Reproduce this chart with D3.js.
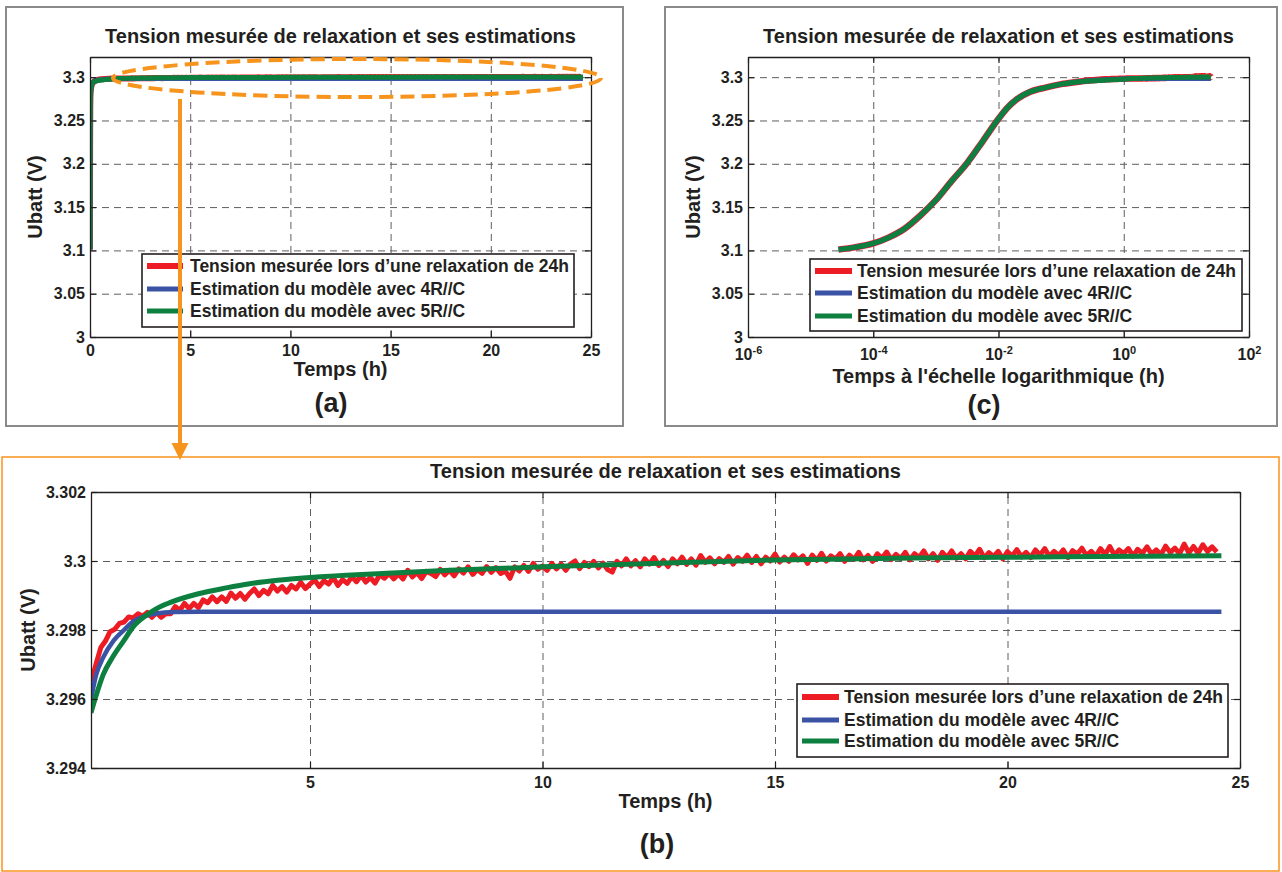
<!DOCTYPE html>
<html><head><meta charset="utf-8">
<script src="https://cdn.jsdelivr.net/npm/d3@7"></script>
<style>
body{margin:0;background:#fff}
text{font-family:"Liberation Sans",Arial,Helvetica,sans-serif;font-weight:bold;fill:#231f20}
</style>
</head><body><svg id="c" width="1282" height="872"></svg>
<script>
// ---------------- DATA ----------------
const titleText = "Tension mesurée de relaxation et ses estimations";
const seriesNames = ["Tension mesurée lors d\u2019une relaxation de 24h","Estimation du modèle avec 4R//C","Estimation du modèle avec 5R//C"];
const yLabel = "Ubatt (V)";
const xLabelLin = "Temps (h)";
const xLabelLog = "Temps à l'échelle logarithmique (h)";

// early transient (hours) shared by the three curves
const earlyT = [2.8e-5,5e-5,1e-4,1.78e-4,3.16e-4,5.6e-4,1e-3,1.78e-3,3.16e-3,5.6e-3,1e-2,1.4e-2,2e-2,3.16e-2,5.6e-2,0.1,0.178];
const earlyV = [3.101,3.1035,3.108,3.115,3.125,3.140,3.158,3.180,3.201,3.226,3.252,3.265,3.275,3.283,3.288,3.292,3.2945];

// measured voltage (panel b), hours / volts
const redT = [0.3,0.4,0.5,0.6,0.7,0.8,0.9,
1,1.1,1.2,1.3,1.4,1.5,1.6,1.7,1.8,1.9,
2,2.1,2.2,2.3,2.4,2.5,2.6,2.7,2.8,2.9,
3,3.1,3.2,3.3,3.4,3.5,3.6,3.7,3.8,3.9,
4,4.1,4.2,4.3,4.4,4.5,4.6,4.7,4.8,4.9,
5,5.1,5.2,5.3,5.4,5.5,5.6,5.7,5.8,5.9,
6,6.1,6.2,6.3,6.4,6.5,6.6,6.7,6.8,6.9,
7,7.1,7.2,7.3,7.4,7.5,7.6,7.7,7.8,7.9,
8,8.1,8.2,8.3,8.4,8.5,8.6,8.7,8.8,8.9,
9,9.1,9.2,9.3,9.4,9.5,9.6,9.7,9.8,9.9,
10,10.1,10.2,10.3,10.4,10.5,10.6,10.7,10.8,10.9,
11,11.1,11.2,11.3,11.4,11.5,11.6,11.7,11.8,11.9,
12,12.1,12.2,12.3,12.4,12.5,12.6,12.7,12.8,12.9,
13,13.1,13.2,13.3,13.4,13.5,13.6,13.7,13.8,13.9,
14,14.1,14.2,14.3,14.4,14.5,14.6,14.7,14.8,14.9,
15,15.1,15.2,15.3,15.4,15.5,15.6,15.7,15.8,15.9,
16,16.1,16.2,16.3,16.4,16.5,16.6,16.7,16.8,16.9,
17,17.1,17.2,17.3,17.4,17.5,17.6,17.7,17.8,17.9,
18,18.1,18.2,18.3,18.4,18.5,18.6,18.7,18.8,18.9,
19,19.1,19.2,19.3,19.4,19.5,19.6,19.7,19.8,19.9,
20,20.1,20.2,20.3,20.4,20.5,20.6,20.7,20.8,20.9,
21,21.1,21.2,21.3,21.4,21.5,21.6,21.7,21.8,21.9,
22,22.1,22.2,22.3,22.4,22.5,22.6,22.7,22.8,22.9,
23,23.1,23.2,23.3,23.4,23.5,23.6,23.7,23.8,23.9,
24,24.1,24.2,24.3,24.4,24.5];
const redV = [3.29652,3.29702,3.29749,3.29768,3.29795,3.29802,3.29819,
3.29823,3.29838,3.29835,3.29847,3.29840,3.29851,3.29837,3.29851,3.29837,3.29848,
3.29847,3.29868,3.29857,3.29877,3.29862,3.29877,3.29865,3.29887,3.29879,3.29896,
3.29882,3.29896,3.29883,3.29907,3.29892,3.29906,3.29889,3.29906,3.29919,3.29900,
3.29915,3.29905,3.29929,3.29913,3.29926,3.29910,3.29929,3.29919,3.29938,3.29920,
3.29933,3.29945,3.29926,3.29943,3.29933,3.29952,3.29929,3.29946,3.29935,3.29954,
3.29940,3.29958,3.29939,3.29952,3.29936,3.29960,3.29950,3.29964,3.29948,3.29962,
3.29948,3.29973,3.29954,3.29967,3.29949,3.29970,3.29964,3.29955,3.29976,3.29960,
3.29973,3.29957,3.29977,3.29965,3.29983,3.29961,3.29975,3.29964,3.29984,3.29967,
3.29981,3.29964,3.29971,3.29950,3.29983,3.29971,3.29987,3.29970,3.29993,3.29976,
3.29985,3.29973,3.29993,3.29977,3.29991,3.29973,3.29991,3.30000,3.29978,3.29996,
3.29984,3.29999,3.29980,3.29994,3.29975,3.29968,3.29999,3.29986,3.30006,3.29986,
3.30001,3.29983,3.30006,3.29991,3.30010,3.29987,3.30002,3.29984,3.30006,3.29992,
3.30011,3.29990,3.30006,3.29988,3.30016,3.29996,3.30009,3.29992,3.30007,3.29996,
3.30013,3.29991,3.30010,3.29999,3.30017,3.29996,3.30013,3.29992,3.30011,3.30000,
3.30020,3.29997,3.30011,3.29999,3.30018,3.30003,3.30015,3.29993,3.30017,3.30002,
3.30022,3.30000,3.30015,3.30006,3.30021,3.29999,3.30017,3.30005,3.30025,3.30003,
3.30016,3.29999,3.30021,3.30008,3.30026,3.30004,3.30019,3.30007,3.30025,3.30003,
3.30021,3.30010,3.30029,3.30006,3.30021,3.30002,3.30025,3.30010,3.30029,3.30008,
3.30021,3.30006,3.30028,3.30014,3.30034,3.30009,3.30024,3.30013,3.30028,3.30006,
3.30027,3.30014,3.30033,3.30012,3.30025,3.30010,3.30032,3.30017,3.30036,3.30013,
3.30028,3.30016,3.30032,3.30010,3.30030,3.30020,3.30037,3.30016,3.30028,3.30014,
3.30036,3.30019,3.30042,3.30017,3.30032,3.30022,3.30036,3.30014,3.30034,3.30022,
3.30041,3.30020,3.30032,3.30018,3.30043,3.30025,3.30037,3.30021,3.30049,3.30024,
3.30042,3.30023,3.30047,3.30028,3.30041,3.30026];

// 4R//C model
const blueT = [0.29,0.4,0.55,0.78,1.0,1.2,1.45,1.7,2.1,2.6,24.6];
const blueV = [3.2960,3.2967,3.2972,3.2977,3.2980,3.29825,3.2984,3.29848,3.29852,3.29853,3.29853];

// 5R//C model
const greenT = [0.29,0.4,0.55,0.75,1.0,1.2,1.45,1.7,2.0,2.6,3.2,3.7,4.3,5,6,7,8,10,12,15,18,20,22,24.6];
const greenV = [3.2956,3.2961,3.2967,3.2972,3.2977,3.2981,3.2984,3.29862,3.2988,3.29905,3.29922,3.29934,3.29944,3.29952,3.2996,3.29967,3.29973,3.29983,3.29991,3.30003,3.30009,3.30011,3.30013,3.30015];

// ticks
const yTicksAC = [3,3.05,3.1,3.15,3.2,3.25,3.3];
const yTicksB = [3.294,3.296,3.298,3.3,3.302];
const xTicksA = [0,5,10,15,20,25];
const xTicksB = [5,10,15,20,25];
const xTicksC = [1e-6,1e-4,1e-2,1,1e2];

// ---------------- STYLE ----------------
const RED="#ed1c24", BLUE="#3a53a4", GREEN="#0d7f3f", ORANGE="#f7941d", GRID="#5e5e5e", INK="#231f20";
const svg = d3.select("#c");

function zip(t,v){ const n=Math.min(t.length,v.length); return t.slice(0,n).map((d,i)=>[d,v[i]]); }
function withEarly(t,v){ const t0=t[0]; const e=zip(earlyT,earlyV).filter(d=>d[0]<t0); return e.concat(zip(t,v)); }
const fullRed = withEarly(redT,redV), fullBlue = withEarly(blueT,blueV), fullGreen = withEarly(greenT,greenV);
const bRed = zip(redT,redV), bBlue = zip(blueT,blueV), bGreen = zip(greenT,greenV);
const fmt = d => String(+d.toFixed(3));

function panel(o){
  const {x,y,L,T,R,B,name} = o;
  const g = svg.append("g");
  svg.append("clipPath").attr("id","clip"+name).append("rect")
    .attr("x",L).attr("y",T-4).attr("width",R-L).attr("height",B-T+4);
  // grid
  g.append("g").attr("transform",`translate(0,${B})`)
    .call(d3.axisBottom(x).tickValues(o.xGrid).tickSize(-(B-T)).tickFormat(""))
    .call(s=>{s.select(".domain").remove(); s.selectAll("line").attr("stroke",GRID).attr("stroke-dasharray","7,5");});
  g.append("g").attr("transform",`translate(${L},0)`)
    .call(d3.axisLeft(y).tickValues(o.yGrid).tickSize(-(R-L)).tickFormat(""))
    .call(s=>{s.select(".domain").remove(); s.selectAll("line").attr("stroke",GRID).attr("stroke-dasharray","7,5");});
  // lines
  const lg = g.append("g").attr("clip-path",`url(#clip${name})`);
  o.series.forEach(s=>{
    const line = d3.line().x(d=>x(d[0])).y(d=>y(d[1])).curve(s.smooth?d3.curveMonotoneX:d3.curveLinear);
    lg.append("path").datum(s.data).attr("d",line).attr("fill","none")
      .attr("stroke",s.color).attr("stroke-width",s.w).attr("stroke-linejoin","round").attr("stroke-linecap","butt");
  });
  // axes
  const styleAx = s=>{ s.select(".domain").attr("stroke",INK).attr("stroke-width",1.3);
    s.selectAll(".tick line").attr("stroke",INK).attr("stroke-width",1.2);
    s.selectAll("text").attr("font-size",o.tickFont).attr("fill",INK).attr("font-family",null); };
  const bx = g.append("g").attr("transform",`translate(0,${B})`)
    .call(d3.axisBottom(x).tickValues(o.xTicks).tickSize(-6).tickSizeOuter(0).tickPadding(o.xPad).tickFormat(o.xFmt||fmt)).call(styleAx);
  if(o.log){
    bx.selectAll(".tick text").each(function(d){
      const e=Math.round(Math.log10(d)); const t=d3.select(this); t.text(null);
      t.append("tspan").text("10");
      t.append("tspan").attr("dy","-0.6em").attr("font-size","11px").text(e);
    });
  }
  g.append("g").attr("transform",`translate(0,${T})`)
    .call(d3.axisTop(x).tickValues(o.xTicks).tickSize(-6).tickSizeOuter(0).tickFormat("")).call(styleAx);
  g.append("g").attr("transform",`translate(${L},0)`)
    .call(d3.axisLeft(y).tickValues(o.yTicks).tickSize(-6).tickSizeOuter(0).tickPadding(o.yPad).tickFormat(fmt)).call(styleAx);
  g.append("g").attr("transform",`translate(${R},0)`)
    .call(d3.axisRight(y).tickValues(o.yTicks).tickSize(-6).tickSizeOuter(0).tickFormat("")).call(styleAx);
  g.selectAll(".tick text").attr("font-weight","bold");
  // title & labels
  svg.append("text").attr("x",(L+R)/2).attr("y",o.titleY).attr("text-anchor","middle").attr("font-size",20).text(titleText);
  svg.append("text").attr("x",o.xLabX||(L+R)/2).attr("y",o.xLabY).attr("text-anchor","middle").attr("font-size",20).text(o.xLabel);
  svg.append("text").attr("transform",`translate(${o.yLabX},${(T+B)/2}) rotate(-90)`).attr("text-anchor","middle").attr("font-size",20).text(yLabel);
  svg.append("text").attr("x",o.tagX).attr("y",o.tagY).attr("text-anchor","middle").attr("font-size",27).text(o.tag);
  // legend
  const lgd = o.legend;
  const lgG = svg.append("g");
  lgG.append("rect").attr("x",lgd.x).attr("y",lgd.y).attr("width",lgd.w).attr("height",lgd.h)
    .attr("fill","#fff").attr("stroke",INK).attr("stroke-width",1.6);
  [RED,BLUE,GREEN].forEach((c,i)=>{
    const yy = lgd.y + lgd.rows[i];
    lgG.append("line").attr("x1",lgd.x+lgd.l0).attr("x2",lgd.x+lgd.l1).attr("y1",yy).attr("y2",yy)
      .attr("stroke",c).attr("stroke-width",i===0?6:5);
    lgG.append("text").attr("x",lgd.x+lgd.tx).attr("y",yy).attr("dy","0.36em").attr("font-size",17.5).text(seriesNames[i]);
  });
}

// panel boxes
svg.append("rect").attr("x",6).attr("y",7).attr("width",617).attr("height",419).attr("fill","none").attr("stroke","#8a8a8a").attr("stroke-width",2);
svg.append("rect").attr("x",665).attr("y",7).attr("width",612).attr("height",419).attr("fill","none").attr("stroke","#8a8a8a").attr("stroke-width",2);
svg.append("rect").attr("x",2).attr("y",457).attr("width",1277).attr("height",414).attr("fill","none").attr("stroke",ORANGE).attr("stroke-width",1.5);

// Panel (a)
panel({name:"a", L:90,T:57,R:591,B:337,
  x:d3.scaleLinear().domain([0,25]).range([90,591]),
  y:d3.scaleLinear().domain([3,3.3233]).range([337,57]),
  xTicks:xTicksA, xGrid:[5,10,15,20], yTicks:yTicksAC, yGrid:[3.05,3.1,3.15,3.2,3.25,3.3],
  tickFont:16, xPad:8, yPad:5,
  series:[{data:fullRed,color:RED,w:6},{data:fullBlue,color:BLUE,w:5,smooth:true},{data:fullGreen,color:GREEN,w:5,smooth:true}],
  titleY:43, xLabel:xLabelLin, xLabY:376, yLabX:42, tag:"(a)", tagX:331, tagY:412,
  legend:{x:142,y:254,w:432,h:73,rows:[12,35,57],l0:5,l1:41,tx:48}
});

// Panel (c)
panel({name:"c", L:748,T:57,R:1249,B:337, log:true,
  x:d3.scaleLog().domain([1e-6,1e2]).range([748,1249]),
  y:d3.scaleLinear().domain([3,3.3233]).range([337,57]),
  xTicks:xTicksC, xGrid:[1e-4,1e-2,1], yTicks:yTicksAC, yGrid:[3.05,3.1,3.15,3.2,3.25,3.3],
  tickFont:16, xPad:12, yPad:5, xFmt:d=>"10",
  series:[{data:fullRed,color:RED,w:6.5,smooth:true},{data:fullBlue,color:BLUE,w:5,smooth:true},{data:fullGreen,color:GREEN,w:5,smooth:true}],
  titleY:43, xLabel:xLabelLog, xLabY:383, yLabX:700, tag:"(c)", tagX:984, tagY:414,
  legend:{x:810,y:259,w:432,h:72,rows:[12,34,57],l0:5,l1:42,tx:47}
});

// Panel (b)
panel({name:"b", L:91,T:492,R:1240,B:768,
  x:d3.scaleLinear().domain([0.29,25]).range([91,1240]),
  y:d3.scaleLinear().domain([3.294,3.302]).range([768,492]),
  xTicks:xTicksB, xGrid:[5,10,15,20], yTicks:yTicksB, yGrid:[3.296,3.298,3.3],
  tickFont:16, xPad:9, yPad:5,
  series:[{data:bRed,color:RED,w:5},{data:bBlue,color:BLUE,w:4.5,smooth:true},{data:bGreen,color:GREEN,w:5,smooth:true}],
  titleY:478, xLabel:xLabelLin, xLabY:808, yLabX:35, tag:"(b)", tagX:657, tagY:853,
  legend:{x:797,y:684,w:431,h:73,rows:[13,36,57],l0:5,l1:42,tx:47}
});

// orange highlight ellipse and arrow
svg.append("ellipse").attr("cx",357).attr("cy",78).attr("rx",244).attr("ry",19)
  .attr("fill","none").attr("stroke",ORANGE).attr("stroke-width",4).attr("stroke-dasharray","14,7");
svg.append("line").attr("x1",180).attr("x2",180).attr("y1",99).attr("y2",445).attr("stroke",ORANGE).attr("stroke-width",4);
svg.append("path").attr("d","M171.5,443 L188.5,443 L180,460 Z").attr("fill",ORANGE);
</script>
</body></html>
